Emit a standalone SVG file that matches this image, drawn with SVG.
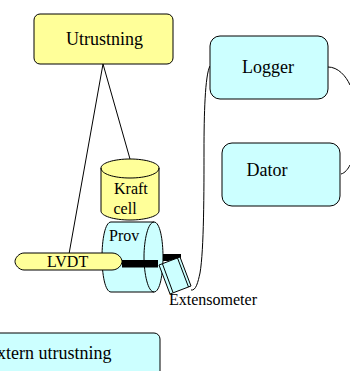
<svg xmlns="http://www.w3.org/2000/svg" width="350" height="371" viewBox="0 0 350 371">
<style>
.b{stroke:#000;stroke-width:1;stroke-linejoin:round}
.c{fill:#ccffff}
.y{fill:#ffff99}
.w{fill:none;stroke:#000;stroke-width:1}
text{font-family:"Liberation Serif","Times New Roman",serif;font-size:18px;fill:#000}
.s{font-size:16px}
</style>
<g id="connectors">
<path class="w" d="M103 64L69 254"/>
<path class="w" d="M103 64L130 159"/>
<path class="w" d="M191 290C196 291 198 282 200 273C204 250 204 190 204 150C204 115 205 75 210 66"/>
<path class="w" d="M328 67C338 67 346 76 350 85"/>
<path class="w" d="M341 174C345 173 348 169 350 165"/>
</g>
<g id="utrustning">
<rect class="b y" x="34" y="14" width="139" height="50" rx="6"/>
<text x="66" y="45">Utrustning</text>
</g>
<g id="logger">
<rect class="b c" x="210" y="36" width="118" height="63" rx="10"/>
<text x="242" y="73">Logger</text>
</g>
<g id="dator">
<rect class="b c" x="222" y="143" width="118" height="63" rx="10"/>
<text x="246.500" y="176">Dator</text>
</g>
<g id="prov">
<path class="b c" d="M111 222H154C160 222 163 240 163 257C163 274 160 292 154 292H111C105 292 102 274 102 257C102 240 105 222 111 222Z"/>
<path class="w" d="M154 222C148 222 144 240 144 257C144 274 148 292 154 292"/>
<text x="109" y="241" class="s">Prov</text>
</g>
<g id="kraftcell">
<path class="b y" d="M101 168C101 163 114 159 130 159C146 159 159 163 159 168V211C159 216 146 220 130 220C114 220 101 216 101 211Z"/>
<path class="w" d="M101 168C101 174 114 178 130 178C146 178 159 174 159 168"/>
<text x="114" y="194" class="s">Kraft</text>
<text x="113.500" y="214" class="s">cell</text>
</g>
<g id="bars">
<rect x="122" y="260" width="36" height="7.500" fill="#000"/>
<path d="M163 254H181V258L168 261H163Z" fill="#000"/>
</g>
<g id="lvdt">
<path class="b y" d="M24 253H112C118 253 122 258 122 261.500C122 265 118 270 112 270H24C19 270 15 265 15 261.500C15 258 19 253 24 253Z"/>
<text x="47" y="267" class="s">LVDT</text>
</g>
<g id="extensometer">
<path class="b c" d="M159 265L180 257L191 286L170 294Z"/>
<path class="w" d="M162.500 264L173 292.500M177.500 258L188.500 287"/>
<text x="169" y="305" class="s">Extensometer</text>
</g>
<g id="extern">
<rect class="b c" x="-20" y="333" width="180" height="50" rx="6"/>
<text x="-14" y="359">Extern utrustning</text>
</g>
</svg>
